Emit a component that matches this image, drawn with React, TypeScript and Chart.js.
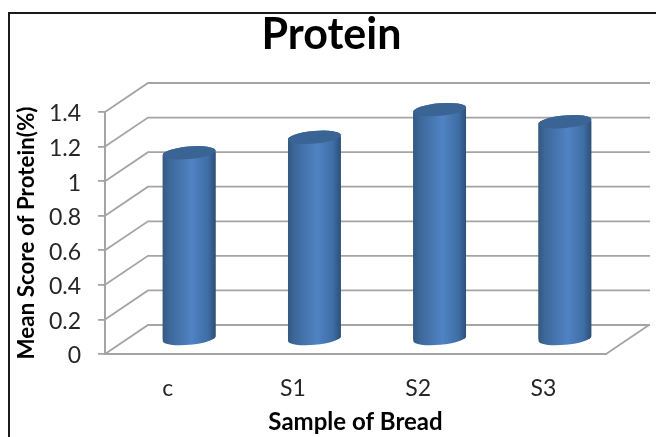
import React, { useEffect, useRef } from "react";
import { Chart, registerables } from "chart.js";

Chart.register(...registerables);

const categories = ["c", "S1", "S2", "S3"];
const proteinValues = [1.08, 1.17, 1.33, 1.26];
const chartTitle = "Protein";
const xAxisTitle = "Sample of Bread";
const yAxisTitle = "Mean Score of Protein(%)";

const FONT = "Lato, 'Open Sans', sans-serif";
const DEPTH_X = 43;
const DEPTH_Y = 29;
const GRID = "#a4a4a4";
const RX = 26.5;
const RY = 6.3;
const TILT = -0.09;

function bodyGradient(ctx: CanvasRenderingContext2D, x: number) {
  if (!Number.isFinite(x)) return "#4f81bd";
  const g = ctx.createLinearGradient(x - RX, 0, x + RX, 0);
  g.addColorStop(0, "#34597f");
  g.addColorStop(0.12, "#3c6798");
  g.addColorStop(0.55, "#5083c4");
  g.addColorStop(0.85, "#3f6ea6");
  g.addColorStop(1, "#2d4f78");
  return g;
}

function silhouette(ctx: CanvasRenderingContext2D, x: number, top: number, base: number) {
  ctx.moveTo(x - RX * Math.cos(TILT), top - RX * Math.sin(TILT));
  ctx.ellipse(x, top, RX, RY, TILT, Math.PI, 2 * Math.PI);
  ctx.ellipse(x, base, RX, RY, TILT, 0, Math.PI);
  ctx.closePath();
}

const wallPlugin = {
  id: "walls",
  afterLayout(chart: any) {
    // the title is centred on the whole frame, not on the padded layout area
    chart.titleBlock.left = 7;
    chart.titleBlock.right = 656;
  },
  beforeDatasetsDraw(chart: any) {
    const { ctx, chartArea } = chart;
    const yScale = chart.scales.y;
    const { left, right } = chartArea;
    const bottom = yScale.getPixelForValue(0);
    ctx.save();
    ctx.strokeStyle = GRID;
    ctx.lineWidth = 1.8;
    ctx.lineCap = "butt";
    yScale.ticks.forEach((t: any) => {
      const y = yScale.getPixelForValue(t.value);
      ctx.beginPath();
      ctx.moveTo(left, y);
      ctx.lineTo(left + DEPTH_X, y - DEPTH_Y);
      ctx.lineTo(right + DEPTH_X + 1, y - DEPTH_Y);
      ctx.stroke();
    });
    ctx.beginPath();
    ctx.moveTo(right, bottom);
    ctx.lineTo(right + DEPTH_X, bottom - DEPTH_Y);
    ctx.stroke();
    // bars sit half way into the floor's depth, shaped to the cylinder outline
    const meta = chart.getDatasetMeta(0);
    ctx.translate(DEPTH_X / 2, -DEPTH_Y / 2);
    ctx.beginPath();
    meta.data.forEach((b: any) => silhouette(ctx, b.x, b.y, b.base));
    ctx.clip();
  },
  afterDatasetsDraw(chart: any) {
    const { ctx } = chart;
    ctx.restore();
    ctx.save();
    ctx.translate(DEPTH_X / 2, -DEPTH_Y / 2);
    chart.getDatasetMeta(0).data.forEach((b: any) => {
      ctx.beginPath();
      silhouette(ctx, b.x, b.y, b.base);
      ctx.fillStyle = bodyGradient(ctx, b.x);
      ctx.fill();
      ctx.beginPath();
      ctx.ellipse(b.x, b.y, RX, RY, TILT, 0, 2 * Math.PI);
      ctx.fillStyle = "#3a6494";
      ctx.fill();
    });
    ctx.restore();
  },
};

export default function App() {
  const ref = useRef<HTMLCanvasElement>(null);
  useEffect(() => {
    const chart = new Chart(ref.current as HTMLCanvasElement, {
      type: "bar",
      data: {
        labels: categories,
        datasets: [
          {
            label: "Protein",
            data: proteinValues,
            barThickness: RX * 2,
            clip: false,
            borderWidth: 0,
            backgroundColor: (c: any) =>
              bodyGradient(c.chart.ctx, c.chart.scales.x.getPixelForValue(c.dataIndex)),
          } as any,
        ],
      },
      options: {
        responsive: false,
        animation: false,
        events: [],
        layout: { padding: { left: 0, right: 50, top: 0, bottom: 0 } },
        plugins: {
          legend: { display: false },
          tooltip: { enabled: false },
          title: {
            display: true,
            text: chartTitle,
            color: "#000",
            font: { family: FONT, size: 43, weight: "bold", lineHeight: 1.2 },
            padding: { top: 9, bottom: 51.4 },
          },
        },
        scales: {
          x: {
            afterFit: (s: any) => {
              s.height = 83;
            },
            grid: { display: false },
            border: { display: true, color: GRID, width: 2 },
            ticks: { color: "#262626", padding: 13, font: { family: FONT, size: 23 }, maxRotation: 0 },
            title: {
              display: true,
              text: xAxisTitle,
              color: "#000",
              font: { family: FONT, size: 24, weight: "bold" },
              padding: { top: 0, bottom: 0 },
            },
          },
          y: {
            min: 0,
            max: 1.4,
            afterFit: (s: any) => {
              s.width = 105;
            },
            grid: { drawOnChartArea: false, drawTicks: true, tickLength: 7, color: GRID, lineWidth: 1.8 },
            border: { display: true, color: GRID, width: 2 },
            ticks: {
              stepSize: 0.2,
              color: "#262626",
              padding: 17,
              labelOffset: 2,
              font: { family: FONT, size: 23 },
              callback: (v: any) => String(Math.round(Number(v) * 10) / 10),
            },
            title: {
              display: true,
              text: yAxisTitle,
              color: "#000",
              font: { family: FONT, size: 22.4, weight: "bold" },
              padding: { top: 13, bottom: 0 },
            },
          },
        },
      } as any,
      plugins: [wallPlugin],
    });
    return () => chart.destroy();
  }, []);
  return (
    <div style={{ position: "absolute", left: 0, top: 0, width: 656, height: 437, background: "#fff", overflow: "hidden" }}>
      <canvas ref={ref} width={656} height={437} style={{ display: "block" }} />
      <div
        style={{
          position: "absolute",
          left: 8,
          top: 12,
          right: -4,
          bottom: -4,
          boxSizing: "border-box",
          borderTop: "2px solid #1a1a1a",
          borderLeft: "2px solid #1a1a1a",
        }}
      />
    </div>
  );
}
